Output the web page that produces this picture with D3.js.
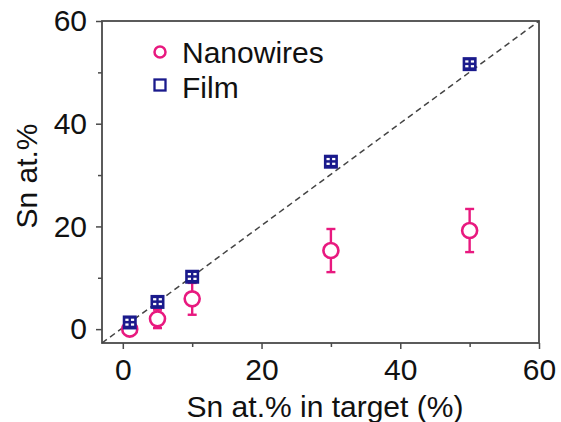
<!DOCTYPE html>
<html>
<head>
<meta charset="utf-8">
<script src="https://cdn.jsdelivr.net/npm/d3@7"></script>
<style>
  body { margin: 0; background: #fff; }
  text { font-family: "Liberation Sans", Arial, sans-serif; fill: #111; }
</style>
</head>
<body>
<div id="chart"></div>
<script>
const targetX = [1, 5, 10, 30, 50];
const filmY = [1.3, 5.3, 10.2, 32.6, 51.6];
const wireY = [0, 2.0, 5.9, 15.3, 19.2];
const wireErr = [0.6, 1.8, 3.1, 4.2, 4.2];
const majorTicks = [0, 20, 40, 60];
const minorTicks = [10, 30, 50];

const width = 561, height = 422;
const margin = { top: 21, right: 22, bottom: 79, left: 102 };
const w = width - margin.left - margin.right;
const h = height - margin.top - margin.bottom;
const fontSize = 30;

const svg = d3.select('#chart').append('svg')
    .attr('width', width)
    .attr('height', height);
const g = svg.append('g')
    .attr('transform', `translate(${margin.left}, ${margin.top})`);

const x = d3.scaleLinear().domain([-3, 60]).range([0, w]);
const y = d3.scaleLinear().domain([-2.7, 60]).range([h, 0]);

const frameColor = '#4a4a4a';

// minor ticks
g.append('g')
    .attr('transform', `translate(0, ${h})`)
    .call(d3.axisBottom(x).tickValues(minorTicks).tickSize(4).tickFormat(''))
    .call(a => a.select('.domain').remove())
    .call(a => a.selectAll('line').attr('stroke', frameColor).attr('stroke-width', 1.5));
g.append('g')
    .call(d3.axisLeft(y).tickValues(minorTicks).tickSize(4).tickFormat(''))
    .call(a => a.select('.domain').remove())
    .call(a => a.selectAll('line').attr('stroke', frameColor).attr('stroke-width', 1.5));

// major ticks
g.append('g')
    .attr('transform', `translate(0, ${h})`)
    .call(d3.axisBottom(x).tickValues(majorTicks).tickSize(6).tickPadding(10))
    .call(a => a.select('.domain').remove())
    .call(a => a.selectAll('line').attr('stroke', frameColor).attr('stroke-width', 1.5))
    .call(a => a.selectAll('text').attr('font-size', fontSize).attr('fill', '#111'));
g.append('g')
    .call(d3.axisLeft(y).tickValues(majorTicks).tickSize(6).tickPadding(9))
    .call(a => a.select('.domain').remove())
    .call(a => a.selectAll('line').attr('stroke', frameColor).attr('stroke-width', 1.5))
    .call(a => a.selectAll('text').attr('font-size', fontSize).attr('fill', '#111'));

// frame
g.append('rect')
    .attr('width', w)
    .attr('height', h)
    .attr('fill', 'none')
    .attr('stroke', frameColor)
    .attr('stroke-width', 1.8);

// y = x guide
g.append('line')
    .attr('x1', x(-3)).attr('y1', y(-2.7))
    .attr('x2', x(60)).attr('y2', y(60))
    .attr('stroke', '#444')
    .attr('stroke-width', 1.5)
    .attr('stroke-dasharray', '6,4');

const pink = '#e8197f';
const navy = '#1a1a8c';

// nanowire error bars
const wires = targetX.map((t, i) => ({ x: t, y: wireY[i], e: wireErr[i] }));
const eb = g.selectAll('.eb').data(wires).enter().append('g')
    .attr('stroke', pink).attr('stroke-width', 2.4);
eb.append('line')
    .attr('x1', d => x(d.x)).attr('x2', d => x(d.x))
    .attr('y1', d => y(d.y - d.e)).attr('y2', d => y(d.y + d.e));
eb.append('line')
    .attr('x1', d => x(d.x) - 4.5).attr('x2', d => x(d.x) + 4.5)
    .attr('y1', d => y(d.y - d.e)).attr('y2', d => y(d.y - d.e));
eb.append('line')
    .attr('x1', d => x(d.x) - 4.5).attr('x2', d => x(d.x) + 4.5)
    .attr('y1', d => y(d.y + d.e)).attr('y2', d => y(d.y + d.e));

g.selectAll('.wire').data(wires).enter().append('circle')
    .attr('cx', d => x(d.x))
    .attr('cy', d => y(d.y))
    .attr('r', 7.5)
    .attr('fill', '#fff')
    .attr('stroke', pink)
    .attr('stroke-width', 2.6);

// film markers
function filmMarker(sel, s) {
    sel.append('rect')
        .attr('x', -s / 2).attr('y', -s / 2)
        .attr('width', s).attr('height', s)
        .attr('fill', navy);
    const d = s * 0.2;
    [[-1, -1], [1, -1], [-1, 1], [1, 1]].forEach(([sx, sy]) => {
        sel.append('rect')
            .attr('x', sx * s * 0.2 - d / 2 - 0.2).attr('y', sy * s * 0.17 - d / 2)
            .attr('width', d + 0.4).attr('height', d * 0.8)
            .attr('fill', '#fff');
    });
}
const film = targetX.map((t, i) => ({ x: t, y: filmY[i] }));
g.selectAll('.film').data(film).enter().append('g')
    .attr('transform', d => `translate(${x(d.x)}, ${y(d.y)})`)
    .each(function () { filmMarker(d3.select(this), 14); });

// legend
const legend = g.append('g').attr('transform', 'translate(58, 31)');
legend.append('circle')
    .attr('cx', 0).attr('cy', 0).attr('r', 5.5)
    .attr('fill', '#fff').attr('stroke', pink).attr('stroke-width', 2.5);
legend.append('text')
    .attr('x', 22).attr('y', 11).attr('font-size', fontSize).text('Nanowires');
legend.append('rect')
    .attr('x', -5.5).attr('y', 27.5).attr('width', 11).attr('height', 11)
    .attr('fill', '#fff').attr('stroke', navy).attr('stroke-width', 2.3);
legend.append('text')
    .attr('x', 22).attr('y', 46).attr('font-size', fontSize).text('Film');

// axis titles
svg.append('text')
    .attr('x', 325)
    .attr('y', 417)
    .attr('text-anchor', 'middle')
    .attr('font-size', fontSize)
    .text('Sn at.% in target (%)');
svg.append('text')
    .attr('transform', 'translate(37, 176) rotate(-90)')
    .attr('text-anchor', 'middle')
    .attr('font-size', fontSize)
    .text('Sn at.%');
</script>
</body>
</html>
